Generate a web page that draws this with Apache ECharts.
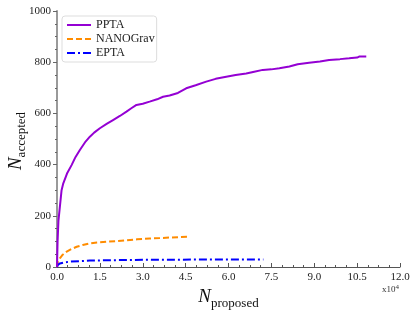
<!DOCTYPE html>
<html>
<head>
<meta charset="utf-8">
<script src="https://cdn.jsdelivr.net/npm/echarts@6/dist/echarts.min.js"></script>
<style>html,body{margin:0;padding:0;background:#fff;}#c{width:415px;height:312px;}</style>
</head>
<body>
<div id="c"></div>
<script>
// x values in units of 1e4
const pptaX = [0, 0.02, 0.05, 0.1, 0.16, 0.22, 0.35, 0.51, 0.65, 0.8, 1.0, 1.15, 1.3, 1.5, 1.75, 1.96, 2.2, 2.43, 2.6, 2.78, 3.0, 3.24, 3.5, 3.71, 3.94, 4.23, 4.52, 4.85, 5.22, 5.55, 5.92, 6.25, 6.62, 6.9, 7.2, 7.5, 7.78, 8.13, 8.42, 8.82, 9.2, 9.52, 9.9, 10.22, 10.5, 10.57, 10.82];
const pptaY = [0, 100, 180, 235, 300, 327, 365, 398, 430, 457, 490, 509, 525, 542, 560, 574, 590, 607, 620, 633, 638, 646, 655, 665, 670, 680, 698, 710, 724, 735, 743, 750, 756, 763, 770, 772, 776, 783, 792, 798, 803, 809, 812, 815, 818, 822, 822];
const nanoX = [0, 0.03, 0.1, 0.2, 0.34, 0.5, 0.69, 0.9, 1.15, 1.4, 1.73, 2.05, 2.43, 2.8, 3.24, 3.6, 3.94, 4.3, 4.6];
const nanoY = [0, 20, 34, 48, 60, 70, 79, 86, 92, 96, 99, 101, 104, 108, 111, 113, 115, 117, 118];
const eptaX = [0, 0.03, 0.1, 0.25, 0.45, 0.8, 1.15, 1.6, 2.2, 3.0, 3.8, 4.87, 5.8, 6.5, 7.22];
const eptaY = [0, 8, 14, 18, 21, 23, 25, 26, 27, 28, 28, 29, 29, 29, 29];
const seriesNames = ['PPTA', 'NANOGrav', 'EPTA'];

const zip = (xs, ys) => xs.map((x, i) => [x, ys[i]]);
const FONT = '"Liberation Serif", "DejaVu Serif", serif';
const nameRich = {
  n: {fontFamily: FONT, fontStyle: 'italic', fontSize: 19, fill: '#111', color: '#111', verticalAlign: 'bottom'},
  s: {fontFamily: FONT, fontSize: 13, fill: '#111', color: '#111', verticalAlign: 'bottom', padding: [0, 0, -3, 0]}
};
const chart = echarts.init(document.getElementById('c'), null, {renderer: 'canvas'});
chart.setOption({
  animation: false,
  textStyle: {fontFamily: FONT},
  grid: {left: 57, right: 15, top: 11, bottom: 45, containLabel: false, outerBoundsMode: 'none'},
  legend: {
    orient: 'vertical', left: 62, top: 16,
    data: seriesNames,
    itemWidth: 24, itemHeight: 10, itemGap: 2,
    padding: [3, 2, 3, 4],
    borderColor: '#dddddd', borderWidth: 1, borderRadius: 3,
    itemStyle: {opacity: 0},
    textStyle: {fontFamily: FONT, fontSize: 12, color: '#222', lineHeight: 11}
  },
  xAxis: {
    type: 'value', min: 0, max: 12, interval: 1.5,
    name: '{n|N}{s|proposed}', nameLocation: 'middle', nameGap: 20,
    nameTextStyle: {rich: nameRich},
    axisLine: {show: true, lineStyle: {color: '#555', width: 1}},
    axisTick: {show: true, inside: true, length: 4, lineStyle: {color: '#555'}},
    minorTick: {show: true, splitNumber: 4, length: 2, lineStyle: {color: '#555'}},
    axisLabel: {fontFamily: FONT, fontSize: 11, color: '#222', margin: 5, formatter: v => v.toFixed(1)},
    splitLine: {show: false}
  },
  yAxis: {
    type: 'value', min: 0, max: 1000, interval: 200,
    axisLine: {show: true, lineStyle: {color: '#9a9a9a', width: 2}},
    axisTick: {show: true, inside: false, length: 4, lineStyle: {color: '#666'}},
    minorTick: {show: true, splitNumber: 4, length: 2, lineStyle: {color: '#666'}},
    axisLabel: {fontFamily: FONT, fontSize: 11, color: '#222', margin: 6, formatter: v => String(v)},
    splitLine: {show: false}
  },
  graphic: [{
    type: 'text', right: 16, top: 284,
    style: {
      text: '{a|x10}{b|4}',
      rich: {
        a: {fontFamily: FONT, fontSize: 9, fill: '#333'},
        b: {fontFamily: FONT, fontSize: 7, fill: '#333', verticalAlign: 'top', padding: [0, 0, 5, 0]}
      }
    }
  }, {
    type: 'text', x: 16, y: 141, rotation: Math.PI / 2,
    style: {
      text: '{n|N}{s|accepted}',
      align: 'center', verticalAlign: 'middle',
      rich: nameRich
    }
  }],
  series: [
    {name: 'PPTA', type: 'line', data: zip(pptaX, pptaY), symbol: 'none', smooth: false,
     lineStyle: {color: '#9400D3', width: 2}, itemStyle: {color: '#9400D3'}, z: 3},
    {name: 'NANOGrav', type: 'line', data: zip(nanoX, nanoY), symbol: 'none',
     lineStyle: {color: '#FF8C00', width: 2, type: [6, 3]}, itemStyle: {color: '#FF8C00'}, z: 2},
    {name: 'EPTA', type: 'line', data: zip(eptaX, eptaY), symbol: 'none',
     lineStyle: {color: '#0000FF', width: 2, type: [8, 3, 2, 3]}, itemStyle: {color: '#0000FF'}, z: 2}
  ]
});
</script>
</body>
</html>
